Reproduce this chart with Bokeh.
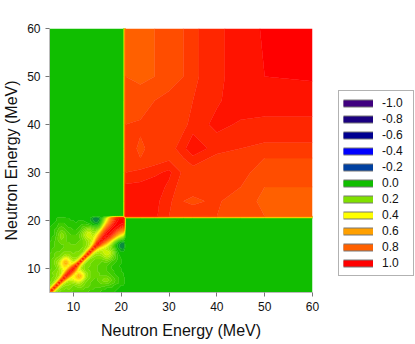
import numpy as np
from bokeh.plotting import figure
from bokeh.models import Legend, LegendItem, FixedTicker
from bokeh.embed import file_html
from bokeh.resources import INLINE

# energies of the matrix nodes (MeV)
low_energies = [5, 5.5, 6, 6.5, 7, 7.5, 8, 8.5, 9, 9.5, 10, 10.5, 11, 11.5, 12, 12.5, 13, 13.5,
                14, 14.5, 15, 15.5, 16, 16.5, 17, 17.5, 18, 18.5, 19, 19.5, 20, 20.5]
high_energies = [20.9, 24, 27, 30, 33, 35, 40, 45, 50, 60]

# lower triangle of the correlation matrix (percent), 5-20.5 MeV
low_rows = [
    [100],
    [55, 100],
    [26, 55, 100],
    [20, 28, 55, 100],
    [18, 20, 28, 56, 100],
    [16, 18, 22, 30, 60, 100],
    [16, 18, 20, 24, 32, 66, 100],
    [14, 16, 18, 22, 26, 38, 76, 100],
    [16, 18, 20, 22, 24, 30, 48, 82, 100],
    [14, 16, 18, 20, 24, 30, 36, 56, 86, 100],
    [14, 14, 16, 18, 24, 32, 40, 40, 60, 86, 100],
    [12, 14, 16, 20, 26, 36, 46, 44, 38, 56, 78, 100],
    [12, 14, 18, 22, 28, 38, 52, 58, 46, 36, 44, 64, 100],
    [12, 14, 18, 22, 26, 36, 50, 54, 44, 34, 28, 34, 56, 100],
    [12, 14, 16, 20, 22, 28, 38, 42, 36, 28, 24, 24, 32, 54, 100],
    [10, 12, 14, 16, 18, 20, 26, 28, 26, 22, 20, 20, 22, 30, 54, 100],
    [10, 12, 14, 16, 16, 18, 20, 22, 22, 20, 18, 20, 20, 22, 30, 56, 100],
    [8, 10, 12, 14, 14, 16, 18, 18, 18, 18, 18, 18, 18, 20, 22, 32, 66, 100],
    [8, 10, 12, 14, 14, 14, 16, 18, 18, 18, 16, 16, 16, 18, 20, 24, 34, 60, 100],
    [8, 8, 10, 12, 12, 14, 14, 16, 16, 16, 16, 16, 16, 18, 18, 22, 26, 36, 68, 100],
    [6, 8, 10, 12, 14, 14, 14, 16, 16, 14, 14, 14, 16, 18, 18, 20, 24, 30, 42, 78, 100],
    [6, 8, 10, 12, 14, 16, 16, 14, 14, 12, 12, 12, 14, 16, 18, 20, 24, 28, 36, 54, 90, 100],
    [6, 6, 8, 12, 16, 18, 16, 14, 12, 12, 12, 12, 12, 14, 18, 22, 26, 28, 32, 44, 70, 92, 100],
    [4, 6, 8, 12, 16, 20, 18, 14, 12, 10, 10, 12, 12, 16, 20, 26, 30, 32, 30, 38, 54, 80, 94, 100],
    [4, 6, 6, 10, 16, 20, 18, 14, 12, 10, 10, 10, 12, 16, 22, 28, 32, 32, 28, 32, 44, 64, 86, 96, 100],
    [4, 4, 6, 10, 14, 18, 16, 12, 10, 8, 8, 8, 10, 14, 20, 26, 30, 30, 24, 24, 32, 48, 72, 90, 97, 100],
    [2, 4, 6, 8, 12, 14, 12, 10, 8, 8, 6, 6, 8, 10, 16, 20, 24, 24, 20, 18, 22, 34, 52, 78, 92, 97, 100],
    [2, 4, 4, 6, 10, 12, 10, 8, 6, 6, 4, 4, 6, 8, 12, 14, 16, 16, 12, 10, 10, 18, 36, 60, 80, 92, 97, 100],
    [2, 2, 4, 4, 8, 8, 8, 6, 6, 4, 4, 4, 4, 6, 8, 8, 8, 6, 2, 0, 0, 8, 24, 44, 66, 82, 92, 97, 100],
    [2, 2, 2, 4, 6, 6, 6, 4, 4, 4, 4, 2, 4, 4, 4, 4, 2, 0, -2, -5, -5, -1, 14, 32, 52, 70, 84, 94, 98, 100],
    [2, 2, 2, 2, 4, 4, 4, 4, 4, 2, 2, 2, 2, 2, 2, 0, 0, -2, -5, -9, -9, -4, 8, 24, 42, 60, 78, 88, 96, 99, 100],
    [2, 2, 2, 2, 4, 4, 4, 2, 2, 2, 2, 2, 2, 0, 0, 0, 0, -2, -6, -10, -10, -6, 4, 18, 34, 52, 72, 84, 94, 98, 99, 100],
]

# lower triangle of the correlation matrix (percent), 21-60 MeV
high_rows = [
    [97],
    [96, 97],
    [95, 95.5, 96.5],
    [90, 91, 93, 95],
    [87, 86, 87, 89, 90],
    [87.5, 85.5, 87, 87.5, 93, 97],
    [86, 86.5, 87, 87.5, 88.5, 92, 95],
    [85, 84, 86, 87, 88, 90, 93.5, 96],
    [82, 81, 82, 84.5, 86, 89, 93, 96, 98],
    [80, 80, 82, 84, 86, 89, 93, 96, 98.5, 100],
]

legend_values = [-1.0, -0.8, -0.6, -0.4, -0.2, 0.0, 0.2, 0.4, 0.6, 0.8, 1.0]
legend_labels = ["-1.0", "-0.8", "-0.6", "-0.4", "-0.2", "0.0", "0.2", "0.4", "0.6", "0.8", "1.0"]
legend_colors = ["#40007F", "#1A0080", "#000090", "#0000FF", "#0040A0", "#10BE00",
                 "#80E000", "#FFFF00", "#FFA000", "#FF6000", "#FF0000"]
x_ticks = [10, 20, 30, 40, 50, 60]
y_ticks = [10, 20, 30, 40, 50, 60]
x_title = "Neutron Energy (MeV)"
y_title = "Neutron Energy (MeV)"


def to_rgb(c):
    return [int(c[i:i + 2], 16) for i in (1, 3, 5)]


def full(rows):
    n = len(rows)
    m = np.zeros((n, n))
    for i, r in enumerate(rows):
        assert len(r) == i + 1
        for j, v in enumerate(r):
            m[i, j] = m[j, i] = v / 100.0
    return m


energies = np.array(low_energies + high_energies, dtype=float)
nl, nh = len(low_energies), len(high_energies)
z = np.zeros((nl + nh, nl + nh))
z[:nl, :nl] = full(low_rows)
z[nl:, nl:] = full(high_rows)

step = 0.04
centers = np.arange(-25, 26) * step
levels = np.append(centers - step / 2, centers[-1] + step / 2)
rgb = np.array([to_rgb(c) for c in legend_colors], dtype=float)
palette = []
for c in centers:
    col = [int(round(np.interp(c, legend_values, rgb[:, k]))) for k in range(3)]
    palette.append("#%02x%02x%02x" % tuple(col))

p = figure(frame_width=263, frame_height=264, x_range=(5, 60), y_range=(5, 60),
           output_backend="svg", toolbar_location=None,
           min_border_left=42, min_border_right=0, min_border_top=28, min_border_bottom=38,
           background_fill_color="white", border_fill_color="white")
p.outline_line_color = None
p.grid.visible = False

p.contour(energies, energies, z, levels, fill_color=palette,
          line_color=palette + [palette[-1]], line_width=0.6)

for ax, ticks, title in ((p.xaxis[0], x_ticks, x_title), (p.yaxis[0], y_ticks, y_title)):
    ax.ticker = FixedTicker(ticks=ticks)
    ax.minor_tick_line_color = None
    ax.major_tick_in = 0
    ax.major_tick_out = 4
    ax.major_tick_line_color = "#777777"
    ax.axis_line_color = "#bbbbbb"
    ax.major_label_text_font = "Liberation Sans"
    ax.major_label_text_font_size = "12px"
    ax.major_label_text_color = "#111111"
    ax.major_label_standoff = 5
    ax.axis_label = title
    ax.axis_label_text_font = "Liberation Sans"
    ax.axis_label_text_font_size = "16px"
    ax.axis_label_text_font_style = "normal"
    ax.axis_label_text_color = "#111111"
p.xaxis[0].axis_label_standoff = 8
p.yaxis[0].axis_label_standoff = 4

items = []
for lab, col in zip(legend_labels, legend_colors):
    edge = p.line(x=[float("nan")], y=[float("nan")], line_color="#777777", line_width=8)
    fill = p.line(x=[float("nan")], y=[float("nan")], line_color=col, line_width=6)
    items.append(LegendItem(label=lab, renderers=[edge, fill]))
legend = Legend(items=items, location=(26, 16), orientation="vertical",
                glyph_width=30, glyph_height=16, label_height=16, label_width=27, spacing=0,
                label_standoff=9, padding=4, margin=0,
                border_line_color="#666666", border_line_width=1,
                label_text_font="Liberation Sans", label_text_font_size="12px",
                label_text_color="#111111", background_fill_alpha=1)
p.add_layout(legend, "right")

open("out.html", "w").write(file_html(p, INLINE))
